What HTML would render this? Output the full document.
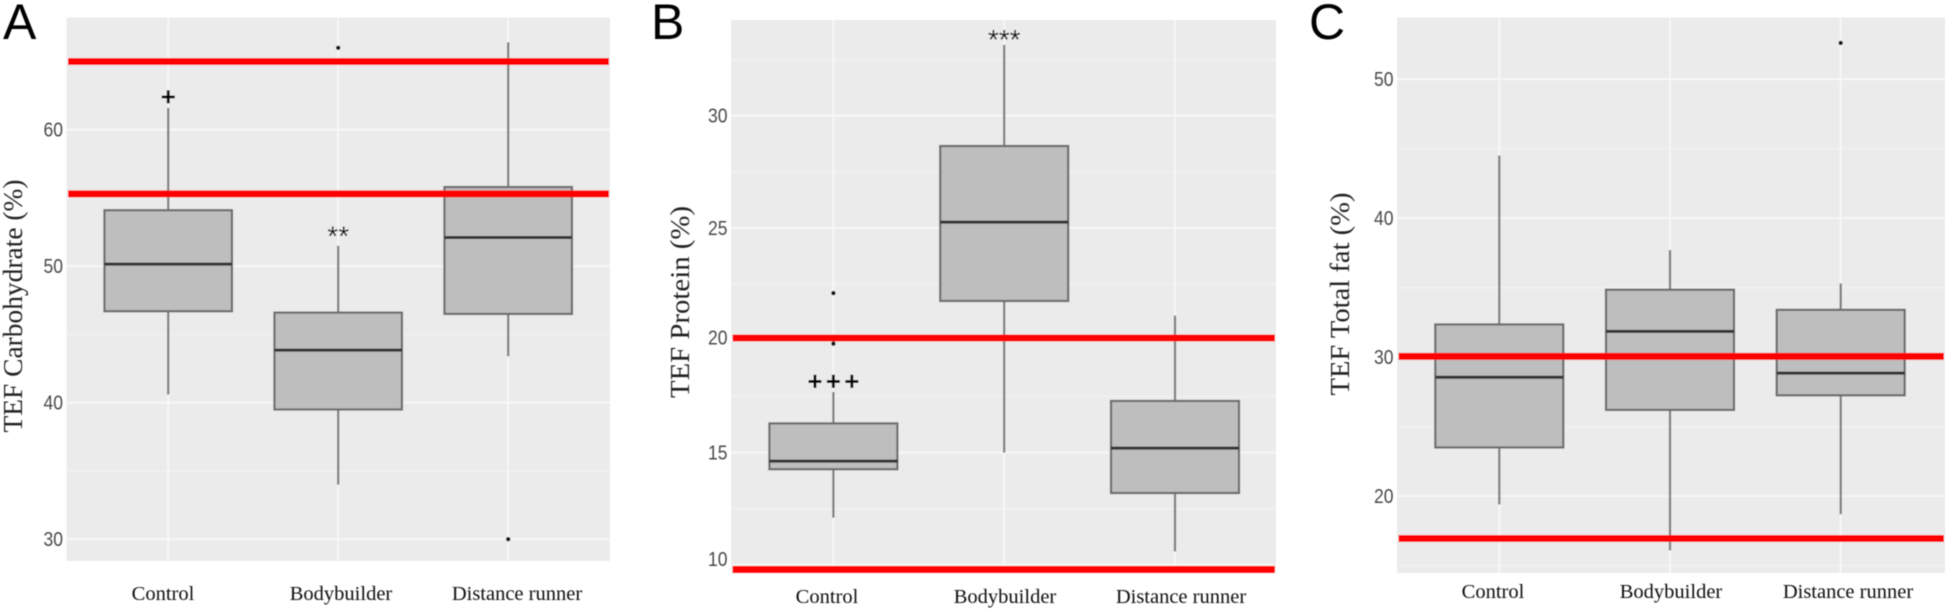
<!DOCTYPE html>
<html lang="en">
<head>
<meta charset="utf-8">
<title>TEF boxplots</title>
<style>
html,body{margin:0;padding:0;background:#fff;width:1946px;height:612px;overflow:hidden}
svg{display:block}
.tick{font-family:"Liberation Sans",sans-serif;font-size:20px;fill:#4a4a4a;text-anchor:end}
.cat{font-family:"Liberation Serif",serif;font-size:20.5px;fill:#111;text-anchor:middle}
.ytitle{font-family:"Liberation Serif",serif;fill:#222;text-anchor:middle}
.letter{font-family:"Liberation Sans",sans-serif;font-size:50px;fill:#000}
.anno{font-family:"Liberation Sans",sans-serif;fill:#000;text-anchor:middle}
</style>
</head>
<body>
<svg id="figure" width="1946" height="612" viewBox="0 0 1946 612" xmlns="http://www.w3.org/2000/svg">
<defs><filter id="soft" x="-2%" y="-2%" width="104%" height="104%"><feGaussianBlur stdDeviation="0.55"/></filter></defs>
<g id="root" filter="url(#soft)"></g>
</svg>
<script>
const categories = ['Control', 'Bodybuilder', 'Distance runner'];

const carbQ1 = [46.7, 39.5, 46.5];
const carbMedian = [50.15, 43.85, 52.1];
const carbQ3 = [54.1, 46.6, 55.8];
const carbWhiskerLow = [40.6, 34.0, 43.4];
const carbWhiskerHigh = [61.6, 51.5, 66.4];
const carbOutliers = [[], [66.0], [30.0]];
const carbReference = [65.0, 55.3];
const carbTicks = [30, 40, 50, 60];
const carbMinorTicks = [35, 45, 55, 65];
const carbAnnotations = ['+', '**', ''];

const proteinQ1 = [14.26, 21.75, 13.2];
const proteinMedian = [14.62, 25.26, 15.2];
const proteinQ3 = [16.3, 28.65, 17.3];
const proteinWhiskerLow = [12.1, 15.0, 10.6];
const proteinWhiskerHigh = [17.7, 33.15, 21.1];
const proteinOutliers = [[22.1, 19.85], [], []];
const proteinReference = [20.1, 9.8];
const proteinTicks = [10, 15, 20, 25, 30];
const proteinMinorTicks = [12.5, 17.5, 22.5, 27.5, 32.5];
const proteinAnnotations = ['+++', '***', ''];

const fatQ1 = [23.5, 26.2, 27.25];
const fatMedian = [28.55, 31.85, 28.85];
const fatQ3 = [32.35, 34.85, 33.4];
const fatWhiskerLow = [19.4, 16.1, 18.7];
const fatWhiskerHigh = [44.5, 37.7, 35.3];
const fatOutliers = [[], [], [52.6]];
const fatReference = [30.05, 16.95];
const fatTicks = [20, 30, 40, 50];
const fatMinorTicks = [15, 25, 35, 45];
const fatAnnotations = ['', '', ''];

const NS = 'http://www.w3.org/2000/svg';
const root = document.getElementById('root');

function make(parent, tag, attrs, text) {
  const el = document.createElementNS(NS, tag);
  for (const k in attrs) el.setAttribute(k, attrs[k]);
  if (text !== undefined) el.textContent = text;
  parent.appendChild(el);
  return el;
}

function drawPanel(p) {
  const g = make(root, 'g', {});
  
  

  const y = v => p.bottom - (v - p.yMin) / (p.yMax - p.yMin) * (p.bottom - p.top);
  const x = i => p.left + p.firstX + i * p.stepX;

  const letter = make(g, 'text', {class: 'letter', x: p.letterX, y: p.letterY}, p.letter);
  
  

  const bg = make(g, 'rect', {x: p.left, y: p.top, width: p.right - p.left, height: p.bottom - p.top, fill: '#ebebeb'});
  
  

  p.minor.forEach(t => {
    const l = make(g, 'line', {x1: p.left, x2: p.right, y1: y(t), y2: y(t), stroke: '#f2f2f2', 'stroke-width': 1.4});
    
    
  });
  p.ticks.forEach(t => {
    const l = make(g, 'line', {x1: p.left, x2: p.right, y1: y(t), y2: y(t), stroke: '#f8f8f8', 'stroke-width': 1.8});
    
    
    const label = make(g, 'text', {class: 'tick', x: p.left - 3.5, y: y(t) + 7 + (p.tickNudge[t] || 0), textLength: 19.5, lengthAdjust: 'spacingAndGlyphs'}, String(t));
    
    
  });
  categories.forEach((c, i) => {
    const l = make(g, 'line', {x1: x(i), x2: x(i), y1: p.top, y2: p.bottom, stroke: '#f8f8f8', 'stroke-width': 1.8});
    
    
  });

  categories.forEach((c, i) => {
    const cx = x(i);
    const bw = p.boxWidth;
    const box = make(g, 'g', {});
    
    

    const wh = make(box, 'line', {x1: cx, x2: cx, y1: y(p.high[i]), y2: y(p.q3[i]), stroke: '#7c7c7c', 'stroke-width': 2.2});
    
    
    const wl = make(box, 'line', {x1: cx, x2: cx, y1: y(p.q1[i]), y2: y(p.low[i]), stroke: '#7c7c7c', 'stroke-width': 2.2});
    
    
    const r = make(box, 'rect', {x: cx - bw / 2, y: y(p.q3[i]), width: bw, height: y(p.q1[i]) - y(p.q3[i]), fill: '#bebebe', stroke: '#6c6c6c', 'stroke-width': 2.2});
    
    
    const m = make(box, 'line', {x1: cx - bw / 2, x2: cx + bw / 2, y1: y(p.med[i]), y2: y(p.med[i]), stroke: '#333', 'stroke-width': 3});
    
    
    p.out[i].forEach(v => {
      const o = make(box, 'circle', {cx: cx, cy: y(v), r: 2.2, fill: '#111'});
      
      
    });
    if (p.anno[i]) {
      const plus = p.anno[i].indexOf('+') >= 0;
      const many = p.anno[i].length > 2;
      const spacing = plus && many ? 3.3 : 0;
      const lift = plus ? 2.2 : (many ? -4 : 0);
      const a = make(box, 'text', {
        class: 'anno', x: cx + spacing / 2, y: y(p.high[i]) - lift,
        'font-size': plus ? 26 : 28,
        'font-weight': plus ? 'bold' : 'normal',
        'letter-spacing': spacing
      }, p.anno[i]);
      
      
    }

    const label = make(g, 'text', {class: 'cat', x: p.catX[i], y: p.catY}, c);
    
    
  });

  p.ref.forEach(v => {
    const l = make(g, 'line', {x1: p.left + 1.5, x2: p.right - 1, y1: y(v), y2: y(v), stroke: '#ff0000', 'stroke-width': 7});
    
    
  });

  const title = make(g, 'text', {
    class: 'ytitle',
    transform: 'translate(' + p.titleX + ',' + p.titleY + ') rotate(-90)',
    'font-size': p.titleSize,
    textLength: p.titleLength,
    lengthAdjust: 'spacingAndGlyphs'
  }, p.title);
  
  
}

drawPanel({
  key: 'carbohydrate', letter: 'A', letterX: 3, letterY: 39,
  left: 66.5, right: 610, top: 17.5, bottom: 561, yMin: 28.4, yMax: 68.22,
  firstX: 101.7, stepX: 170, boxWidth: 127.5,
  q1: carbQ1, med: carbMedian, q3: carbQ3, low: carbWhiskerLow, high: carbWhiskerHigh,
  out: carbOutliers, ref: carbReference, ticks: carbTicks, minor: carbMinorTicks, anno: carbAnnotations,
  tickNudge: {}, catX: [163, 341, 517], catY: 600,
  title: 'TEF Carbohydrate (%)', titleX: 22, titleY: 306, titleSize: 27, titleLength: 253
});
drawPanel({
  key: 'protein', letter: 'B', letterX: 651, letterY: 39,
  left: 731, right: 1276, top: 20, bottom: 573, yMin: 9.64, yMax: 34.26,
  firstX: 102.4, stepX: 170.8, boxWidth: 128,
  q1: proteinQ1, med: proteinMedian, q3: proteinQ3, low: proteinWhiskerLow, high: proteinWhiskerHigh,
  out: proteinOutliers, ref: proteinReference, ticks: proteinTicks, minor: proteinMinorTicks, anno: proteinAnnotations,
  tickNudge: {10: -6, 20: -3}, catX: [827, 1005, 1181], catY: 603,
  title: 'TEF Protein (%)', titleX: 689, titleY: 302, titleSize: 27, titleLength: 192
});
drawPanel({
  key: 'fat', letter: 'C', letterX: 1309, letterY: 39,
  left: 1397, right: 1945, top: 17.5, bottom: 573, yMin: 14.47, yMax: 54.43,
  firstX: 102.3, stepX: 170.7, boxWidth: 128,
  q1: fatQ1, med: fatMedian, q3: fatQ3, low: fatWhiskerLow, high: fatWhiskerHigh,
  out: fatOutliers, ref: fatReference, ticks: fatTicks, minor: fatMinorTicks, anno: fatAnnotations,
  tickNudge: {}, catX: [1493, 1671, 1848], catY: 598,
  title: 'TEF Total fat (%)', titleX: 1349, titleY: 294, titleSize: 27, titleLength: 203
});
</script>
</body>
</html>
